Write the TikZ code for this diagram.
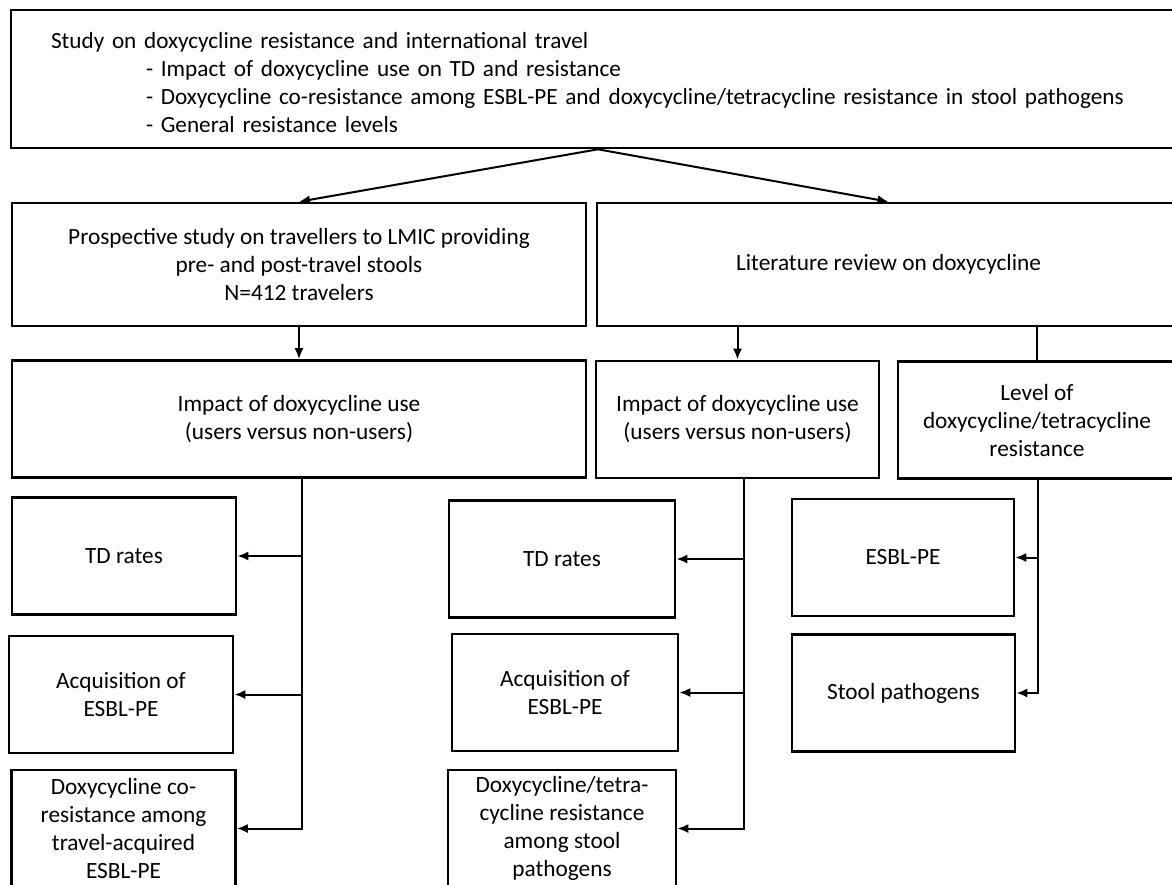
\documentclass[tikz,border=0pt]{standalone}
\usepackage{fontspec}
\setmainfont{Carlito}
\usetikzlibrary{arrows.meta,positioning,calc}

\begin{document}
\begin{tikzpicture}[x=1pt, y=-1pt,
  box/.style={rectangle, draw, line width=2.6pt, inner sep=2pt, align=center, minimum width=224pt, minimum height=117pt, font=\fontsize{23.3}{28}\selectfont},
  wide/.style={box, minimum width=574pt, minimum height=123pt},
  conn/.style={line width=2pt},
  arr/.style={conn, -{Latex[length=11pt,width=9pt]}}
]
  \useasboundingbox (0,0) rectangle (1172,884);
  % top box
  \node[box, minimum width=1174pt, minimum height=138pt, text width=1094pt, inner xsep=40pt, align=left, font=\fontsize{23.2}{28}\selectfont] (study) at (598,79)
    {\rule{0pt}{23pt}Study on doxycycline resistance and international travel\\
     \hspace*{95pt}- Impact of doxycycline use on TD and resistance\\
     \hspace*{95pt}- Doxycycline co-resistance among ESBL-PE and doxycycline/tetracycline resistance in stool pathogens\\
     \hspace*{95pt}- General resistance levels};
  % second row
  \node[wide] (prosp) at (299,264.5) {Prospective study on travellers to LMIC providing\\pre- and post-travel stools\\N=412 travelers};
  \node[wide, minimum width=583pt] (lit) at (888.5,264.5) {Literature review on doxycycline};
  % third row
  \node[wide, minimum height=117pt] (impL) at (299,419) {Impact of doxycycline use\\(users versus non-users)};
  \node[box, minimum width=283pt] (impM) at (737.5,419.5) {Impact of doxycycline use\\(users versus non-users)};
  \node[box, minimum width=278pt] (level) at (1037,420) {Level of\\doxycycline/tetracycline\\resistance};
  % left column
  \node[box] (tdL) at (124,556) {TD rates};
  \node[box] (acqL) at (121,694.5) {Acquisition of\\ESBL-PE};
  \node[box] (doxL) at (123.5,828.5) {Doxycycline co-\\resistance among\\travel-acquired\\ESBL-PE};
  % middle column
  \node[box, minimum width=226pt] (tdM) at (562,559) {TD rates};
  \node[box, minimum width=226pt] (acqM) at (565,692.5) {Acquisition of\\ESBL-PE};
  \node[box, minimum width=228pt] (doxM) at (562,828.5) {Doxycycline/tetra-\\cycline resistance\\among stool\\pathogens};
  % right column
  \node[box, minimum width=222pt] (esbl) at (903,557.5) {ESBL-PE};
  \node[box, minimum width=223pt] (stool) at (903.5,693) {Stool pathogens};

  \draw[arr] (study.south) -- (prosp.north);
  \draw[arr] (study.south) -- (lit.north);
  \draw[arr] (prosp.south) -- (impL.north);
  \draw[arr] (lit.south -| impM.north) -- (impM.north);
  \draw[conn] (lit.south -| level.north) -- (level.north);
  \foreach \b in {tdL,acqL,doxL}
    \draw[arr] ([xshift=3pt]impL.south) |- (\b.east);
  \foreach \b in {tdM,acqM,doxM}
    \draw[arr] ([xshift=6pt]impM.south) |- (\b.east);
  \foreach \b in {esbl,stool}
    \draw[arr] ([xshift=1pt]level.south) |- (\b.east);
\end{tikzpicture}
\end{document}
